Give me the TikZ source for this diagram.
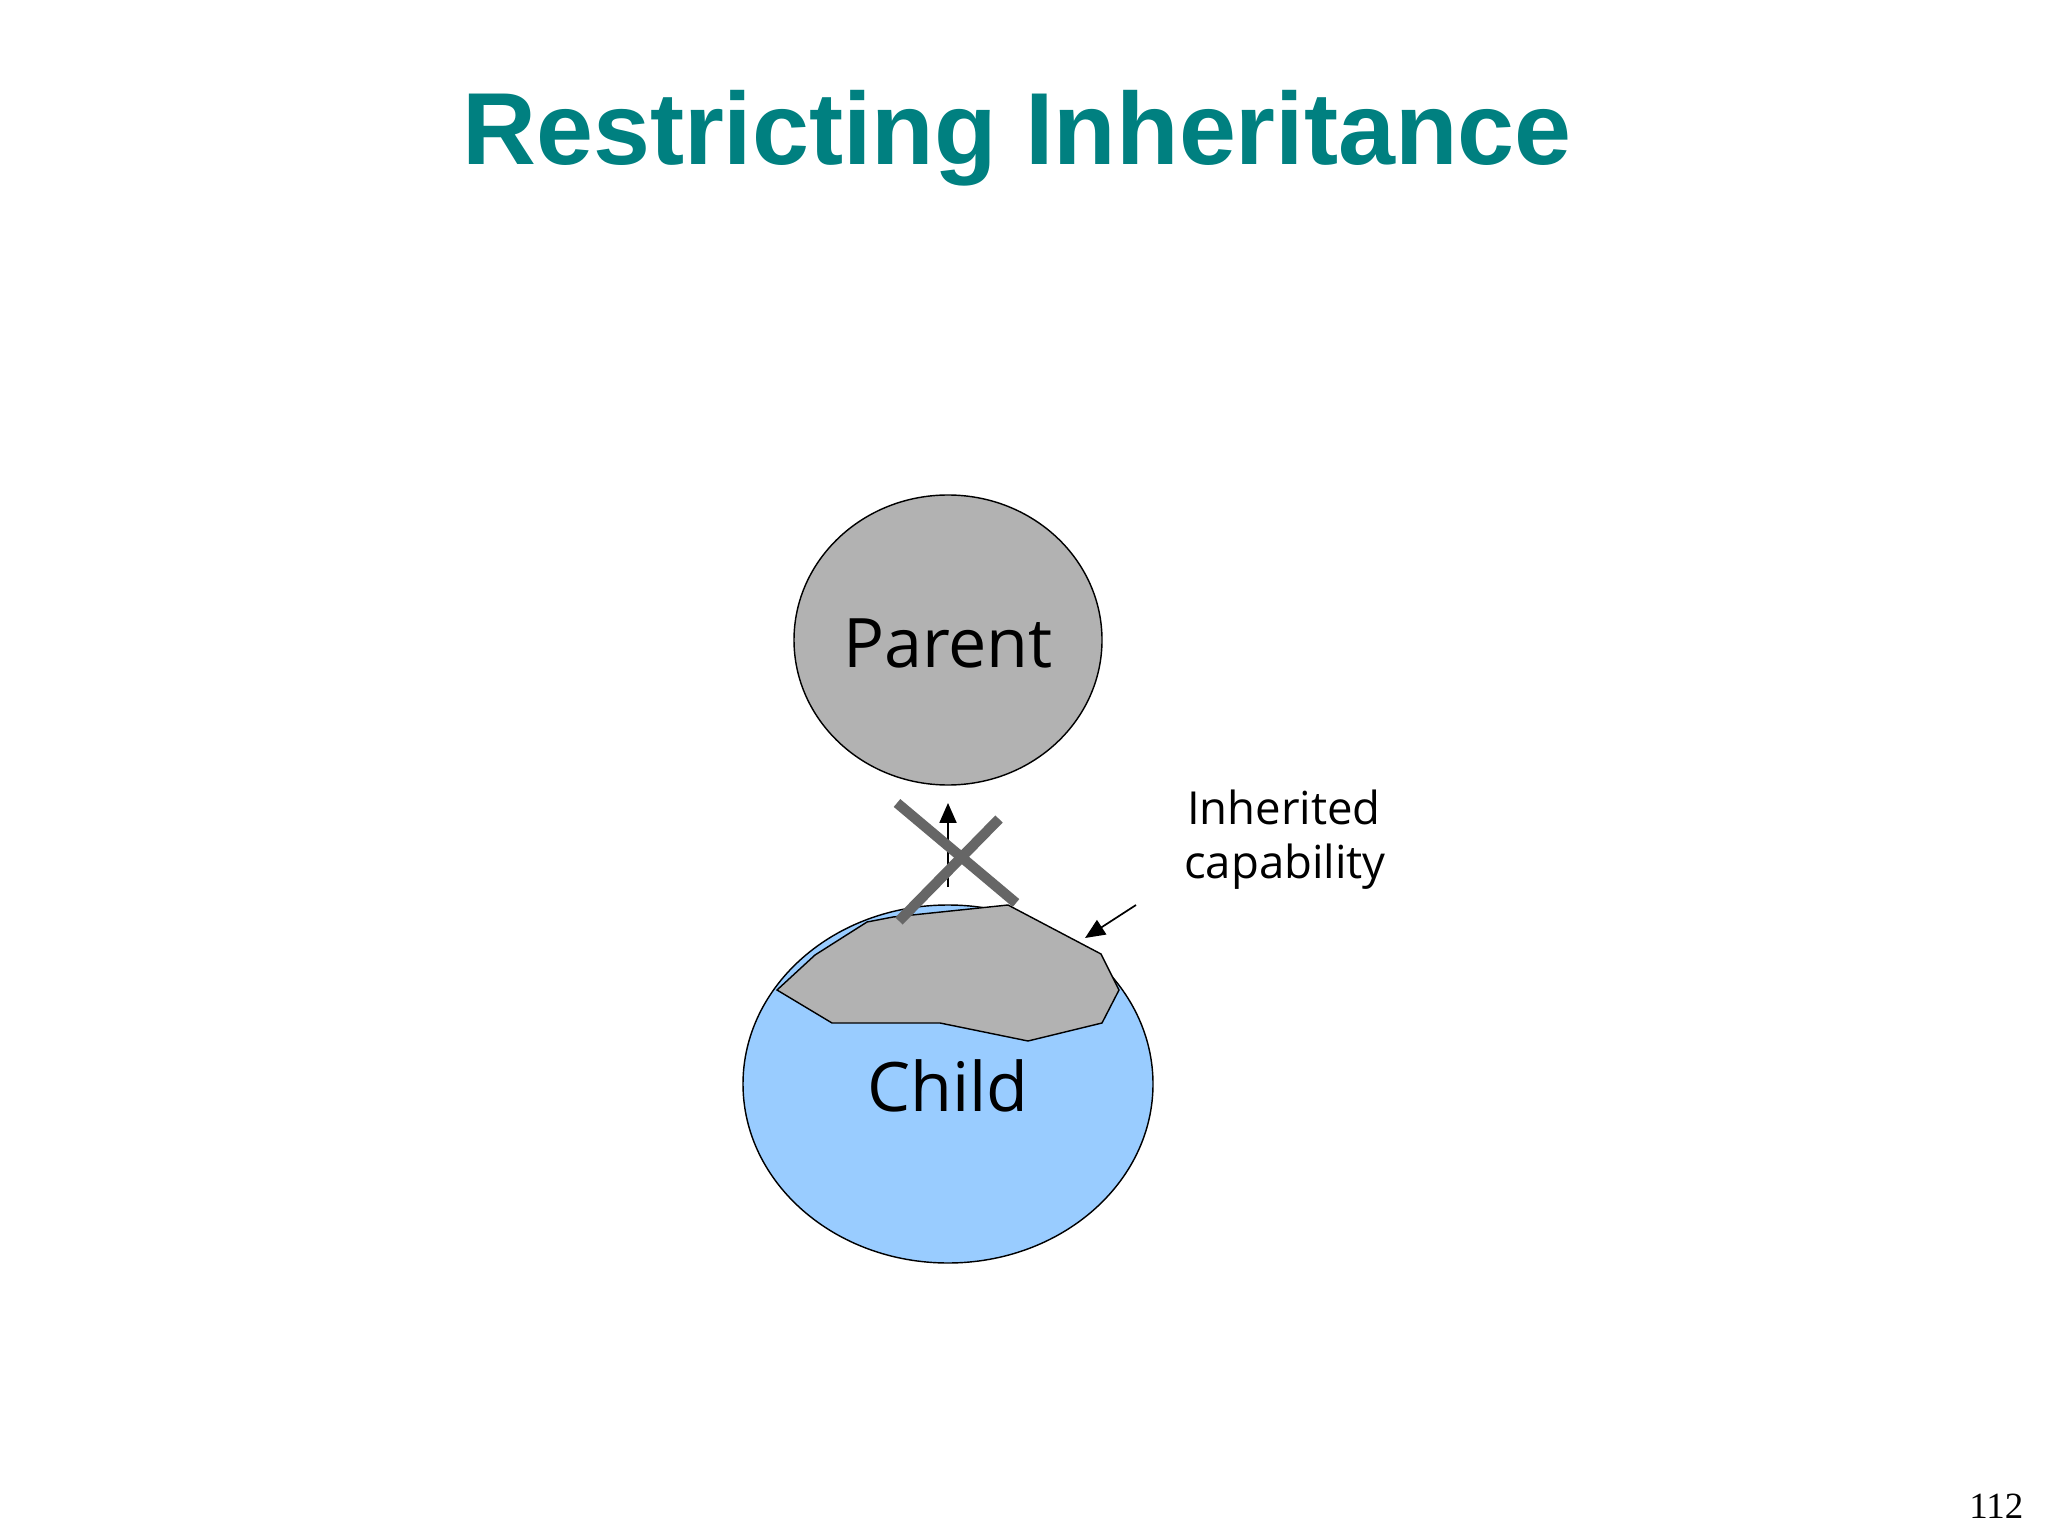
\documentclass[tikz,border=0pt]{standalone}
\usepackage{fontspec}
\setmainfont{Open Sans}
\newfontfamily\titlefont{Liberation Sans}
\newfontfamily\numfont{Liberation Serif}
\usetikzlibrary{arrows.meta}
\definecolor{titlecol}{RGB}{0,128,128}
\definecolor{pgray}{RGB}{178,178,178}
\definecolor{cblue}{RGB}{153,204,255}
\definecolor{xgray}{RGB}{102,102,102}
\tikzset{
  outline/.style={draw=black, line width=0.5pt},
  lbl/.style={inner sep=0pt, anchor=base},
  ptr/.style={draw=black, line width=0.6pt, -{Triangle[length=7pt,width=6pt]}},
  xbar/.style={draw=xgray, line width=3.6pt, line cap=butt}
}
\begin{document}
\begin{tikzpicture}[x=0.3515625pt,y=-0.3515625pt]
\useasboundingbox (0,0) rectangle (2048,1536);
\fill[white] (0,0) rectangle (2048,1536);
% title
\node[lbl, text=titlecol, font=\titlefont\bfseries\fontsize{36}{43}\selectfont] (title) at (1017,165) {Restricting Inheritance};
% parent
\draw[outline, fill=pgray] (948,640) ellipse [x radius=154, y radius=145];
\node[lbl, font=\fontsize{24}{29}\selectfont] (parent) at (948,668) {Parent};
% child
\draw[outline, fill=cblue] (948,1084) ellipse [x radius=205, y radius=179];
\draw[outline, fill=pgray, line join=miter] (777,990) -- (815,955) -- (867,922) -- (893,917) -- (1008,905) -- (1101,954) -- (1119,990) -- (1102,1023) -- (1028,1041) -- (940,1023) -- (832,1023) -- cycle;
\node[lbl, font=\fontsize{24}{29}\selectfont] (child) at (948,1111) {Child};
% inheritance arrow
\coordinate (a0) at (948,887);
\coordinate (a1) at (948,803);
\draw[ptr] (a0) -- (a1);
% cross
\coordinate (x1) at (897,803);
\coordinate (x2) at (1016,903);
\coordinate (x3) at (999,819);
\coordinate (x4) at (899,921);
\draw[xbar] (x1) -- (x2);
\draw[xbar] (x3) -- (x4);
% label
\node[lbl, font=\fontsize{16}{19}\selectfont] (lab1) at (1284,824) {Inherited};
\node[lbl, font=\fontsize{16}{19}\selectfont] (lab2) at (1285,878) {capability};
\coordinate (p0) at (1136,905);
\coordinate (p1) at (1085,938);
\draw[ptr] (p0) -- (p1);
% page number
\node[inner sep=0pt, anchor=base east, font=\numfont\fontsize{13}{15}\selectfont] (pnum) at (2024,1518) {112};
\end{tikzpicture}
\end{document}
